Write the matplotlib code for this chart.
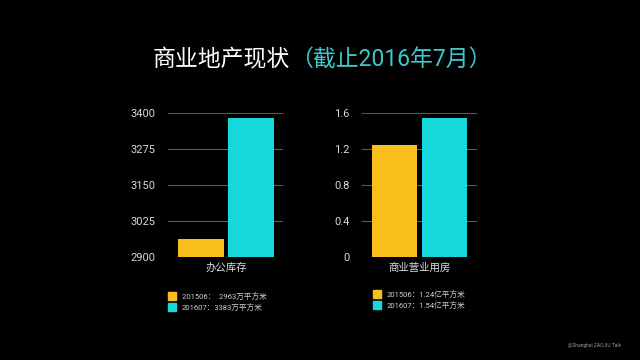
import matplotlib
matplotlib.use("Agg")
import matplotlib.pyplot as plt
from matplotlib.patches import Rectangle

plt.rcParams['font.family'] = ['Roboto', 'Noto Sans CJK SC', 'DejaVu Sans']

# data
periods = ["201506", "201607"]
office_vals = [2963, 3383]
office_cat = "办公库存"
office_ticks = [2900, 3025, 3150, 3275, 3400]
office_tick_labels = ["2900", "3025", "3150", "3275", "3400"]
office_legend = ["201506：  2963万平方米", "201607：3383万平方米"]

retail_vals = [1.24, 1.54]
retail_cat = "商业营业用房"
retail_ticks = [0, 0.4, 0.8, 1.2, 1.6]
retail_tick_labels = ["0", "0.4", "0.8", "1.2", "1.6"]
retail_legend = ["201506：1.24亿平方米", "201607：1.54亿平方米"]

colors = ["#F7BE1C", "#14D8DC"]
bg = "black"

W, H = 640, 360
fig = plt.figure(figsize=(6.4, 3.6), dpi=100, facecolor=bg)


def px(x0, y0, x1, y1):
    # pixel box (top-left origin) -> figure fraction rect
    return [x0 / W, 1 - y1 / H, (x1 - x0) / W, (y1 - y0) / H]


def bar_panel(rect, vals, ylim, ticks, tick_labels, cat, xlim):
    ax = fig.add_axes(rect)
    ax.set_facecolor(bg)
    for t in ticks:
        ax.axhline(t, color="#5a5a5a", lw=0.8, zorder=0)
    ax.bar([0, 1], vals, width=0.91, color=colors, zorder=2)
    ax.set_ylim(*ylim)
    ax.set_xlim(*xlim)
    ax.set_yticks(ticks)
    ax.set_yticklabels(tick_labels)
    ax.set_xticks([0.5])
    ax.set_xticklabels([cat])
    ax.tick_params(axis="y", length=0, pad=9, labelsize=8, labelcolor="#d8d8d8")
    ax.tick_params(axis="x", length=0, pad=4, labelsize=7.5, labelcolor="#e0e0e0")
    for s in ax.spines.values():
        s.set_visible(False)
    return ax


bar_panel(px(168, 113, 283, 257), office_vals, (2900, 3400),
          office_ticks, office_tick_labels, office_cat, (-0.66, 1.64))
bar_panel(px(362, 113, 477, 257), retail_vals, (0, 1.6),
          retail_ticks, retail_tick_labels, retail_cat, (-0.65, 1.65))


def legend(x, y, labels):
    for i, lab in enumerate(labels):
        yy = y + i * 11
        fig.patches.append(Rectangle((x / W, 1 - (yy + 4) / H), 8 / W, 8 / H,
                                     transform=fig.transFigure, color=colors[i]))
        fig.text((x + 14) / W, 1 - yy / H, lab, color="#d0d0d0",
                 fontsize=5.5, va="center", ha="left")


legend(168, 296, office_legend)
legend(373, 294, retail_legend)

# title in two colours
t1 = fig.text(153 / W, 1 - 60 / H, "商业地产现状", color="white",
              fontsize=16.5, ha="left", va="center")
plt.annotate("（截止2016年7月）", xy=(1, 0.5), xycoords=t1, color="#3DC9CB",
             fontsize=16.5, ha="left", va="center")

fig.text(568 / W, 1 - 345 / H, "@Shanghai ZAOJIU Talk", color="#9a9a9a",
         fontsize=3.5, ha="left", va="center")

fig.savefig("out.png", dpi=100, facecolor=bg)
